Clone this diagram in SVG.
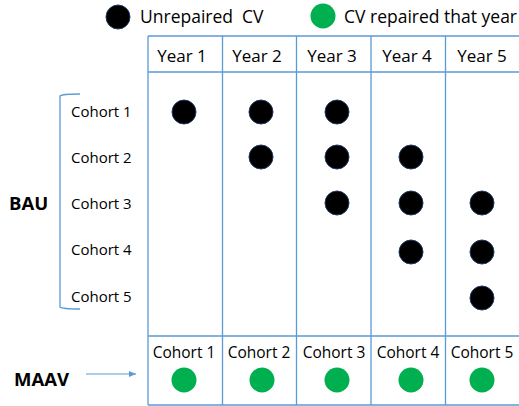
<svg xmlns="http://www.w3.org/2000/svg" width="519" height="406" viewBox="0 0 519 406">
<style>
.grid{stroke:#5B9BD5;stroke-width:1.3;fill:none}
.t{font-family:"Open Sans","Liberation Sans",sans-serif;fill:#000}
.hdr{font-size:17px;text-anchor:middle}
.coh{font-size:15px}
.cohm{font-size:15.5px;text-anchor:middle}
.lg{font-size:17.5px;white-space:pre}
.bold{font-family:"Open Sans","Liberation Sans",sans-serif;font-weight:bold;font-size:18.5px}
.b{fill:#000;stroke:#1F3864;stroke-width:1}
.g{fill:#00B050}
</style>
<defs>
<marker id="ah" markerWidth="8" markerHeight="8" refX="7" refY="4" orient="auto" markerUnits="userSpaceOnUse">
<path d="M0,1 L7,4 L0,7 Z" fill="#5B9BD5"/>
</marker>
</defs>
<g id="legend">
<circle class="b" cx="118" cy="17" r="12"/>
<text class="t lg" x="140" y="23">Unrepaired  CV</text>
<circle class="g" cx="323" cy="16" r="12.5"/>
<text class="t lg" x="344" y="23">CV repaired that year</text>
</g>
<g id="table">
<path class="grid" d="M148,36 H520 M148,72 H520 M148,336 H520 M148,405 H520 M148,36 V405 M222.5,36 V405 M296.5,36 V405 M371,36 V405 M445.5,36 V405"/>
<text class="t hdr" x="182" y="62">Year 1</text>
<text class="t hdr" x="257" y="62">Year 2</text>
<text class="t hdr" x="332" y="62">Year 3</text>
<text class="t hdr" x="407" y="62">Year 4</text>
<text class="t hdr" x="482" y="62">Year 5</text>
</g>
<g id="bau">
<text class="bold" x="9" y="210">BAU</text>
<path class="grid" d="M80,94 Q62,94 60,96 V307 Q62,309 80,309"/>
<text class="t coh" x="71" y="117">Cohort 1</text>
<text class="t coh" x="71" y="163">Cohort 2</text>
<text class="t coh" x="71" y="209">Cohort 3</text>
<text class="t coh" x="71" y="255">Cohort 4</text>
<text class="t coh" x="71" y="302">Cohort 5</text>
<circle class="b" cx="184" cy="112" r="12"/>
<circle class="b" cx="261" cy="112" r="12"/>
<circle class="b" cx="337" cy="112" r="12"/>
<circle class="b" cx="261" cy="157" r="12"/>
<circle class="b" cx="337" cy="157" r="12"/>
<circle class="b" cx="411" cy="157" r="12"/>
<circle class="b" cx="337" cy="203" r="12"/>
<circle class="b" cx="411" cy="203" r="12"/>
<circle class="b" cx="482" cy="203" r="12"/>
<circle class="b" cx="411" cy="252" r="12"/>
<circle class="b" cx="482" cy="252" r="12"/>
<circle class="b" cx="482" cy="298" r="12"/>
</g>
<g id="maav">
<text class="bold" x="14" y="386">MAAV</text>
<text class="t cohm" x="184" y="358">Cohort 1</text>
<text class="t cohm" x="259" y="358">Cohort 2</text>
<text class="t cohm" x="334" y="358">Cohort 3</text>
<text class="t cohm" x="408" y="358">Cohort 4</text>
<text class="t cohm" x="482" y="358">Cohort 5</text>
<circle class="g" cx="184" cy="380" r="12.5"/>
<circle class="g" cx="262" cy="380" r="12.5"/>
<circle class="g" cx="337" cy="380" r="12.5"/>
<circle class="g" cx="411" cy="380" r="12.5"/>
<circle class="g" cx="482" cy="380" r="12.5"/>
</g>
<g id="connectors">
<line x1="86" y1="374" x2="136" y2="374" stroke="#5B9BD5" stroke-width="1" marker-end="url(#ah)"/>
</g>
</svg>
